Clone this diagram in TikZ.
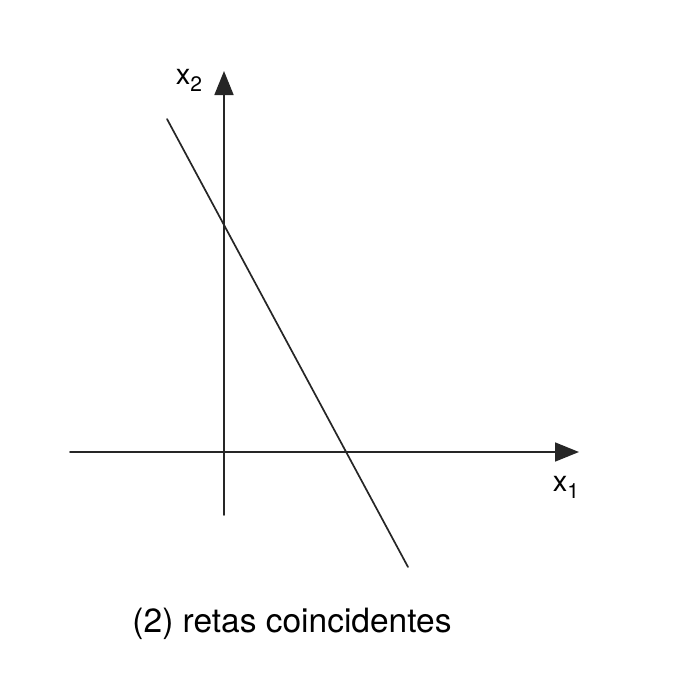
\documentclass[tikz,border=0pt]{standalone}
\usepackage{fontspec}
\setmainfont{TeX Gyre Heros}
\usetikzlibrary{arrows.meta}

\begin{document}
\begin{tikzpicture}[x=1pt, y=-1pt, line width=1.7pt, line cap=round, draw=black!85]
  % 箭头头规格
  \def\arr{-{Triangle[width=19pt,length=24pt]}}
  \def\sub#1{\raisebox{-0.45ex}{\fontsize{21}{25}\selectfont #1}}

  % ════ 坐标轴 ════
  \coordinate (x1a) at (70,452);
  \coordinate (x1b) at (579,452);
  \coordinate (x2a) at (224,515);
  \coordinate (x2b) at (224,71);
  \draw[\arr] (x1a) -- (x1b);           % x1 轴
  \draw[\arr] (x2a) -- (x2b);           % x2 轴

  % ════ 直线 ════
  \coordinate (ra) at (167,119);
  \coordinate (rb) at (408,567);
  \draw (ra) -- (rb);

  % ════ 标签 ════
  \node[anchor=center,inner sep=0pt,font=\fontsize{29}{34}\selectfont] (lx2) at (189,80) {x\sub{2}};
  \node[anchor=center,inner sep=0pt,font=\fontsize{29}{34}\selectfont] (lx1) at (566,487) {x\sub{1}};
  \node[anchor=center,inner sep=0pt,font=\fontsize{33.5}{40}\selectfont] (cap) at (292,624) {(2) retas coincidentes};

  % 钉死画布
  \path[use as bounding box] (0,0) rectangle (689,694);
\end{tikzpicture}
\end{document}
